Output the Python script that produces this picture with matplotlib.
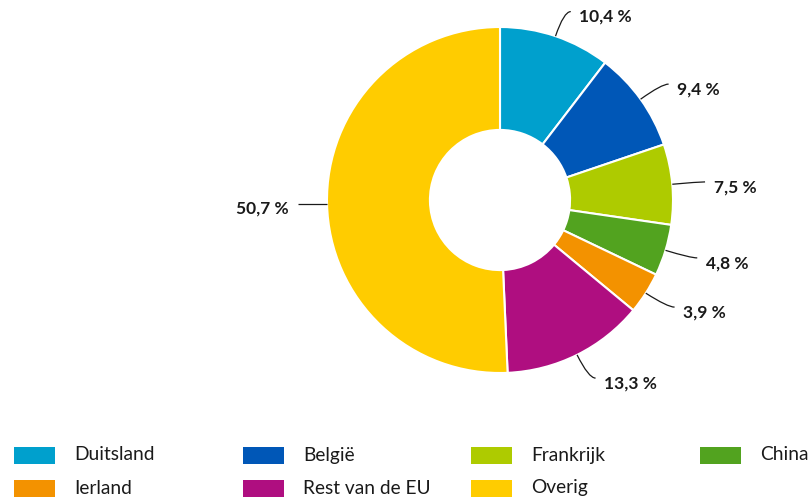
import numpy as np
import matplotlib
matplotlib.use("Agg")
import matplotlib.pyplot as plt
from matplotlib.path import Path
from matplotlib.patches import PathPatch, Rectangle

# --- data ---
countries = ["Duitsland", "België", "Frankrijk", "China", "Ierland", "Rest van de EU", "Overig"]
shares = [10.4, 9.4, 7.5, 4.8, 3.9, 13.3, 50.7]
colors = ["#00A0CD", "#0057B7", "#AECB00", "#52A31F", "#F39200", "#AF0E80", "#FFCC00"]
legend_rows = [["Duitsland", "België", "Frankrijk", "China"],
               ["Ierland", "Rest van de EU", "Overig"]]

plt.rcParams["font.family"] = ["Lato", "DejaVu Sans"]

W, H = 808, 499
fig = plt.figure(figsize=(W / 100, H / 100), dpi=100)

# donut: centre at (500, 200) px, outer radius 173 px
cx, cy, R = 500, 200, 173
ax = fig.add_axes([(cx - R) / W, (H - cy - R) / H, 2 * R / W, 2 * R / H])

wedges, _ = ax.pie(shares, colors=colors, startangle=90, counterclock=False,
                   radius=1.0, wedgeprops=dict(width=0.595, edgecolor="white", linewidth=1.5))
ax.set_xlim(-1, 1)
ax.set_ylim(-1, 1)
ax.set_aspect("equal")
ax.axis("off")

# --- leader lines and value labels ---
for w, val in zip(wedges, shares):
    theta = np.deg2rad((w.theta1 + w.theta2) / 2)
    c, s = np.cos(theta), np.sin(theta)
    side = 1 if c >= 0 else -1
    start = np.array([c, s])
    end = np.array([1.15 * c + side * 0.04, 1.15 * s])
    if abs(s) > 0.05:
        t = (end[1] - start[1]) / s
        ctrl = start + t * np.array([c, s])
        verts = [start, ctrl, end]
        codes = [Path.MOVETO, Path.CURVE3, Path.CURVE3]
    else:
        end = np.array([1.17 * c, start[1]])
        verts = [start, end]
        codes = [Path.MOVETO, Path.LINETO]
    ax.add_patch(PathPatch(Path(verts, codes), fill=False, edgecolor="#1a1a1a",
                           linewidth=0.9, clip_on=False))
    label = f"{val:.1f}".replace(".", ",") + " %"
    ax.text(end[0] + side * 0.05, end[1] - 0.03, label, ha="left" if side > 0 else "right",
            va="center", fontsize=12.5, fontweight="bold", color="#1a1a1a", clip_on=False)

# --- legend ---
col_x = [14, 243, 471, 700]
row_y = [455, 488]
color_of = dict(zip(countries, colors))
for r, row in enumerate(legend_rows):
    for k, name in enumerate(row):
        x0, y0 = col_x[k], row_y[r]
        fig.add_artist(Rectangle((x0 / W, (H - y0 - 8.5) / H), 41 / W, 17 / H,
                                 transform=fig.transFigure, facecolor=color_of[name],
                                 edgecolor="none"))
        fig.text((x0 + 60) / W, (H - y0) / H, name, ha="left", va="center",
                 fontsize=13.8, color="#1a1a1a")

fig.savefig("out.png", dpi=100)
